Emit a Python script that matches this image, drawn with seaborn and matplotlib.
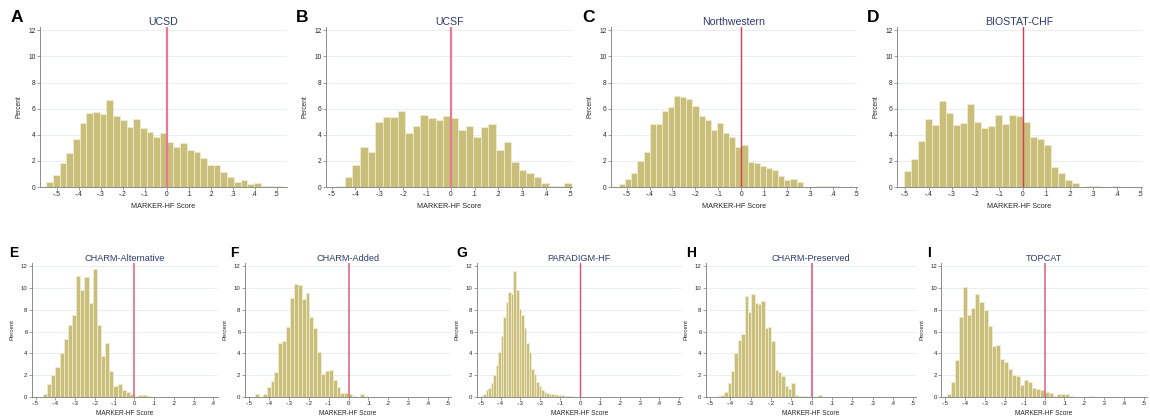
import matplotlib
matplotlib.use('Agg')
import matplotlib.pyplot as plt
import pandas as pd
import seaborn as sns
from matplotlib.ticker import FuncFormatter

# Histogram bar heights (percent); bins given by start + width
panel_letters = ['A', 'B', 'C', 'D', 'E', 'F', 'G', 'H', 'I']
cohort_titles = ['UCSD', 'UCSF', 'Northwestern', 'BIOSTAT-CHF',
                 'CHARM-Alternative', 'CHARM-Added', 'PARADIGM-HF', 'CHARM-Preserved', 'TOPCAT']
bin_start = [-0.549, -0.476, -0.533, -0.503, -0.463, -0.47, -0.50, -0.462, -0.49]
bin_width = [0.0305, 0.0317, 0.0267, 0.0296, 0.021, 0.0195, 0.0127, 0.0165, 0.0204]

ucsd = [0.38, 0.9, 1.8, 2.6, 3.7, 4.9, 5.7, 5.75, 5.6, 6.65, 5.4, 5.1, 4.6, 5.2, 4.55, 4.2, 3.8, 4.15,
        3.45, 3.1, 3.35, 2.8, 2.7, 2.2, 1.7, 1.7, 1.15, 0.8, 0.4, 0.5, 0.25, 0.3, 0.1, 0.1, 0.1]
ucsf = [0.1, 0.75, 1.7, 3.1, 2.7, 5.0, 5.35, 5.35, 5.85, 4.1, 4.7, 5.5, 5.25, 5.1, 5.4,
        5.25, 4.35, 4.7, 3.85, 4.6, 4.85, 2.85, 3.45, 1.95, 1.3, 1.1, 0.75, 0.3, 0.05, 0.05, 0.3]
northwestern = [0.25, 0.6, 1.07, 2.0, 2.65, 4.8, 4.85, 5.8, 6.1, 7.0, 6.9, 6.75, 6.2, 5.4, 5.15, 4.35, 4.9, 4.1, 3.85, 3.05,
                3.25, 1.95, 1.85, 1.6, 1.45, 1.3, 0.85, 0.5, 0.6, 0.4, 0.03, 0.0, 0.05, 0.1, 0.08, 0.04, 0.02, 0.0, 0.02]
biostat = [1.25, 2.15, 3.5, 5.2, 4.75, 6.55, 5.65, 4.75, 4.9, 6.35, 4.95, 4.5, 4.65, 5.55, 4.85, 5.55, 5.45,
           5.0, 3.85, 3.7, 3.2, 1.55, 1.05, 0.55, 0.3, 0.02, 0.05, 0.08, 0.02, 0.0, 0.08]
charm_alt = [0.3, 1.2, 2.0, 2.75, 4.0, 5.3, 6.6, 7.5, 11.1, 9.8, 11.0, 8.6, 11.75, 6.65, 3.75, 5.0, 2.4, 1.05,
             1.2, 0.65, 0.5, 0.3, 0.05, 0.2, 0.2, 0.05]
charm_added = [0.25, 0.0, 0.3, 0.95, 1.5, 2.3, 4.95, 5.15, 6.4, 9.1, 10.4, 10.3, 9.0, 9.55, 7.35, 6.35, 4.1, 2.1,
               2.4, 2.5, 1.55, 0.9, 0.35, 0.35, 0.3, 0.05, 0.0, 0.3, 0.05]
paradigm = [0.1, 0.3, 0.6, 0.85, 1.3, 2.0, 2.9, 4.1, 5.6, 7.3, 8.75, 9.65, 9.5, 11.6, 9.8, 8.1, 7.55, 6.3, 5.0,
            4.1, 2.6, 2.1, 1.4, 1.05, 0.6, 0.45, 0.35, 0.3, 0.3, 0.25, 0.2, 0.15, 0.15, 0.12, 0.1, 0.08, 0.05,
            0.04, 0.03, 0.02, 0.02, 0.01, 0.01]
charm_pres = [0.1, 0.2, 0.5, 1.25, 2.4, 4.0, 5.25, 5.8, 9.3, 7.8, 9.5, 8.6, 8.5, 8.85, 6.35, 6.45, 5.1, 2.5,
              2.3, 1.9, 1.0, 0.7, 1.3, 0.2, 0.1, 0.05, 0.05, 0.05, 0.02, 0.0, 0.15]
topcat = [0.25, 1.4, 3.4, 7.3, 10.1, 7.5, 8.2, 9.5, 8.7, 8.0, 6.5, 4.7, 4.8, 3.5, 3.2, 2.6, 2.0, 1.95, 1.1,
          1.55, 1.35, 0.8, 0.75, 0.6, 0.5, 0.4, 0.1, 0.3, 0.3, 0.3, 0.05, 0.0, 0.0, 0.0, 0.0, 0.05]
heights = [ucsd, ucsf, northwestern, biostat, charm_alt, charm_added, paradigm, charm_pres, topcat]

x_ticks_top = [-0.5, -0.4, -0.3, -0.2, -0.1, 0.0, 0.1, 0.2, 0.3, 0.4, 0.5]
x_ticks_e = [-0.5, -0.4, -0.3, -0.2, -0.1, 0.0, 0.1, 0.2, 0.3, 0.4]
y_ticks = [0, 2, 4, 6, 8, 10, 12]

# layout in pixels: left, right, top, bottom ; x limits ; red line width ; red line colour
W, H = 1150, 418
layout = [
    (39.5, 287, 27, 187, (-0.579, 0.547), 1.6, '#e97a96'),
    (325.7, 572.3, 27, 187, (-0.525, 0.51), 1.6, '#e97a96'),
    (611, 857, 27, 187, (-0.568, 0.505), 1.0, '#d83a55'),
    (896.7, 1142, 27, 187, (-0.535, 0.506), 1.0, '#d83a55'),
    (31.7, 218.3, 263, 397, (-0.52, 0.425), 1.1, '#e0607c'),
    (244.7, 450.7, 263, 397, (-0.522, 0.513), 1.1, '#e0607c'),
    (476.7, 681.7, 263, 397, (-0.52, 0.512), 1.0, '#dc4f6c'),
    (705.7, 915.7, 263, 397, (-0.521, 0.512), 1.4, '#e57390'),
    (941, 1146.7, 263, 397, (-0.52, 0.513), 1.1, '#e0607c'),
]
letter_pos = [(11, 17), (296, 17), (582, 17), (867, 17), (9, 253), (230, 253), (456, 253), (686, 253), (927, 253)]

BAR = '#c9bf7a'
NAVY = '#2c3b6e'

sns.set_theme(style='white')
plt.rcParams['font.family'] = ['Liberation Sans', 'DejaVu Sans']


def stata_fmt(v, _pos):
    if abs(v) < 1e-9:
        return '0'
    return f'{v:.1f}'.replace('0.', '.')


fig = plt.figure(figsize=(W / 100, H / 100), dpi=100)
for k, (left, right, top, bottom, xlim, lw, line_color) in enumerate(layout):
    ax = fig.add_axes([left / W, 1 - bottom / H, (right - left) / W, (bottom - top) / H])
    vals = heights[k]
    edges = [bin_start[k] + bin_width[k] * i for i in range(len(vals) + 1)]
    df = pd.DataFrame({'score': [(a + b) / 2 for a, b in zip(edges[:-1], edges[1:])], 'pct': vals})
    sns.histplot(data=df, x='score', weights='pct', bins=edges, ax=ax, color=BAR, alpha=1,
                 edgecolor='#f1eed6', linewidth=0.5, zorder=2)
    top_row = k < 4
    ax.set_xlim(*xlim)
    ax.set_ylim(0, 12.25 if top_row else 12.3)
    ax.axvline(0, color=line_color, lw=lw, zorder=3)
    ax.set_xticks(x_ticks_e if k == 4 else x_ticks_top)
    ax.xaxis.set_major_formatter(FuncFormatter(stata_fmt))
    ax.set_yticks(y_ticks)
    ax.grid(axis='y', color='#e5edef', lw=0.6, zorder=0)
    ax.grid(axis='x', visible=False)
    ax.set_axisbelow(True)
    for side in ['top', 'right']:
        ax.spines[side].set_visible(False)
    for side in ['left', 'bottom']:
        ax.spines[side].set_color('#7a7a7a')
        ax.spines[side].set_linewidth(0.6)
    fs_tick = 4.8 if top_row else 4.3
    ax.tick_params(axis='both', which='both', direction='out', length=2, width=0.5, color='#7a7a7a',
                   labelsize=fs_tick, pad=1, left=True, bottom=True)
    wpx, hpx = right - left, bottom - top
    ax.set_ylabel('Percent', fontsize=fs_tick)
    ax.yaxis.set_label_coords(-17 / wpx, 0.5)
    ax.set_xlabel('MARKER-HF Score', fontsize=fs_tick + 0.4)
    ax.xaxis.set_label_coords(0.5, -(16 if top_row else 13) / hpx)
    ax.set_title(cohort_titles[k], color=NAVY, fontsize=7.6 if top_row else 6.6, pad=1.5 if top_row else 0.6)
    lx, ly = letter_pos[k]
    fig.text(lx / W, 1 - ly / H, panel_letters[k], fontsize=12.5 if top_row else 10, fontweight='bold',
             ha='left', va='center', color='black')

fig.savefig('out.png', dpi=100)
